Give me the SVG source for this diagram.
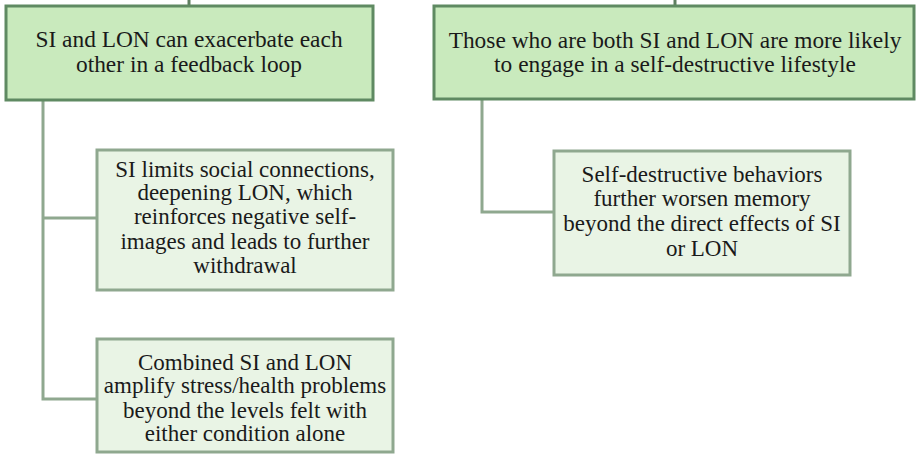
<svg xmlns="http://www.w3.org/2000/svg" width="916" height="462" viewBox="0 0 916 462">
<rect width="916" height="462" fill="#ffffff"/>
<g id="connectors" fill="none" stroke="#8fa88f" stroke-width="3">
<path stroke="#5f7f60" d="M189,0 V6"/>
<path stroke="#5f7f60" d="M675,0 V6"/>
<path d="M43,100 V399 H96"/>
<path d="M43,218 H96"/>
<path d="M482,99 V212 H553"/>
</g>
<g id="node-feedback">
<rect x="6" y="6" width="367" height="94" fill="#c9eabd" stroke="#5f8a62" stroke-width="3"/>
<text font-family="Liberation Serif" font-size="23.4" fill="#1a1a1a" text-anchor="middle" x="189" y="47">SI and LON can exacerbate each</text>
<text font-family="Liberation Serif" font-size="23.4" fill="#1a1a1a" text-anchor="middle" x="189" y="72">other in a feedback loop</text>
</g>
<g id="node-lifestyle">
<rect x="434" y="6" width="480" height="93" fill="#c9eabd" stroke="#5f8a62" stroke-width="3"/>
<text font-family="Liberation Serif" font-size="23.4" fill="#1a1a1a" text-anchor="middle" x="675" y="47.5">Those who are both SI and LON are more likely</text>
<text font-family="Liberation Serif" font-size="23.4" fill="#1a1a1a" text-anchor="middle" x="675" y="71.5">to engage  in a self-destructive lifestyle</text>
</g>
<g id="node-limits">
<rect x="97" y="150" width="296" height="140" fill="#e9f4e5" stroke="#8fa88f" stroke-width="3"/>
<text font-family="Liberation Serif" font-size="23" fill="#1a1a1a" text-anchor="middle" x="245" y="176.7">SI limits social connections,</text>
<text font-family="Liberation Serif" font-size="23" fill="#1a1a1a" text-anchor="middle" x="245" y="200">deepening  LON, which</text>
<text font-family="Liberation Serif" font-size="23" fill="#1a1a1a" text-anchor="middle" x="245" y="224">reinforces negative self-</text>
<text font-family="Liberation Serif" font-size="23" fill="#1a1a1a" text-anchor="middle" x="245" y="249">images and leads to further</text>
<text font-family="Liberation Serif" font-size="23" fill="#1a1a1a" text-anchor="middle" x="245" y="272.7">withdrawal</text>
</g>
<g id="node-combined">
<rect x="97" y="339" width="296" height="113" fill="#e9f4e5" stroke="#8fa88f" stroke-width="3"/>
<text font-family="Liberation Serif" font-size="23" fill="#1a1a1a" text-anchor="middle" x="245" y="369.7">Combined SI and LON</text>
<text font-family="Liberation Serif" font-size="23" fill="#1a1a1a" text-anchor="middle" x="245" y="393">amplify stress/health problems</text>
<text font-family="Liberation Serif" font-size="23" fill="#1a1a1a" text-anchor="middle" x="245" y="418">beyond  the levels felt with</text>
<text font-family="Liberation Serif" font-size="23" fill="#1a1a1a" text-anchor="middle" x="245" y="441.3">either condition alone</text>
</g>
<g id="node-memory">
<rect x="554" y="151" width="296" height="124" fill="#e9f4e5" stroke="#8fa88f" stroke-width="3"/>
<text font-family="Liberation Serif" font-size="23" fill="#1a1a1a" text-anchor="middle" x="702" y="182.3">Self-destructive behaviors</text>
<text font-family="Liberation Serif" font-size="23" fill="#1a1a1a" text-anchor="middle" x="702" y="206">further worsen memory</text>
<text font-family="Liberation Serif" font-size="23" fill="#1a1a1a" text-anchor="middle" x="702" y="231">beyond  the direct effects of SI</text>
<text font-family="Liberation Serif" font-size="23" fill="#1a1a1a" text-anchor="middle" x="702" y="256">or LON</text>
</g>
</svg>
